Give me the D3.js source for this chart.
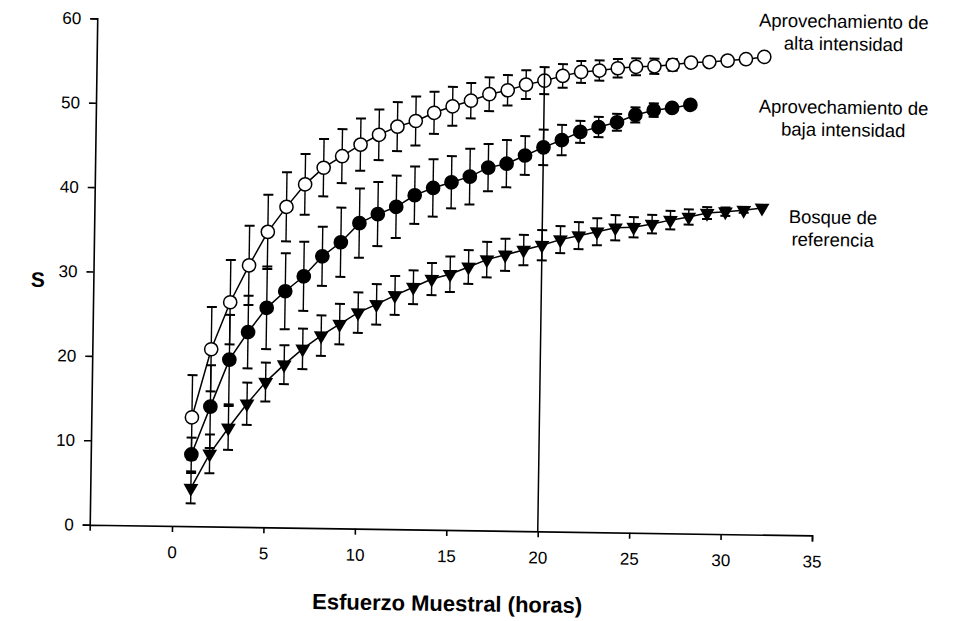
<!DOCTYPE html>
<html>
<head>
<meta charset="utf-8">
<script src="https://cdn.jsdelivr.net/npm/d3@7/dist/d3.min.js"></script>
<style>
  html, body { margin: 0; padding: 0; background: #fff; }
  svg { display: block; font-family: "Liberation Sans", Arial, Helvetica, sans-serif; }
</style>
</head>
<body>
<svg id="chart" width="955" height="621"></svg>
<script>
// Sampling effort (hours) for each curve
const horasAlta   = [1,2,3,4,5,6,7,8,9,10,11,12,13,14,15,16,17,18,19,20,21,22,23,24,25,26,27,28,29,30,31,32];
const horasBaja   = [1,2,3,4,5,6,7,8,9,10,11,12,13,14,15,16,17,18,19,20,21,22,23,24,25,26,27,28];
const horasBosque = [1,2,3,4,5,6,7,8,9,10,11,12,13,14,15,16,17,18,19,20,21,22,23,24,25,26,27,28,29,30,31,32];

// Accumulated species richness (S) and its deviation
const sAlta   = [12.9,21.0,26.6,31.0,35.0,38.0,40.7,42.7,44.1,45.5,46.7,47.7,48.4,49.4,50.2,50.9,51.7,52.2,52.9,53.4,54.0,54.5,54.7,55.0,55.2,55.3,55.5,55.8,55.9,56.1,56.3,56.6];
const dsAlta  = [5.0,5.0,5.0,4.7,4.4,4.1,3.6,3.4,3.2,3.1,3.0,2.9,2.9,2.5,2.3,2.1,2.0,1.8,1.7,1.6,1.4,1.3,1.2,1.1,1.0,0.9,0.7,0.5,0.3,0,0,0];
const sBaja   = [8.5,14.2,19.8,23.1,26.0,28.0,29.8,32.2,33.9,36.2,37.3,38.2,39.6,40.5,41.2,41.9,43.0,43.5,44.5,45.5,46.4,47.4,48.0,48.6,49.5,50.1,50.4,50.8];
const dsBaja  = [2.0,4.9,5.3,4.3,4.9,4.5,4.1,3.5,4.1,4.1,3.8,3.7,3.4,3.4,3.1,3.3,2.8,2.8,2.3,2.1,1.8,1.3,1.2,1.0,0.9,0.8,0.3,0];
const sBosque = [4.5,8.6,11.7,14.6,17.2,19.3,21.2,22.8,24.2,25.6,26.6,27.7,28.7,29.7,30.3,31.2,32.1,32.7,33.3,33.9,34.6,35.1,35.6,36.1,36.2,36.6,37.1,37.5,38.0,38.2,38.4,38.7];
const dsBosque= [1.8,2.3,2.6,2.5,2.3,2.3,2.4,2.4,2.4,2.4,2.4,2.3,2.0,1.9,2.1,2.0,2.1,1.9,1.8,1.8,1.6,1.6,1.6,1.5,1.2,1.1,1.1,0.9,0.7,0.5,0.3,0];

// Series labels (two lines each)
const etiquetas = [
  ["Aprovechamiento de", "alta intensidad"],
  ["Aprovechamiento de", "baja intensidad"],
  ["Bosque de", "referencia"]
];

// Axis ticks and reference effort
const xTicks = [0,5,10,15,20,25,30,35];
const yTicks = [0,10,20,30,40,50,60];
const esfuerzoRef = 20;
const esfuerzoRefTope = 55;

const svg = d3.select("#chart");
// whole figure sits at a slight clockwise tilt
const g = svg.append("g").attr("transform", "rotate(0.85,450,280)");

const x = d3.scaleLinear().domain([-4.5, 35]).range([93.4, 815.8]);
const y = d3.scaleLinear().domain([0, 60]).range([530, 23.6]);

// Axes
const xAxis = g.append("g").attr("transform", `translate(0,${y(0)})`)
  .call(d3.axisBottom(x).tickValues(xTicks).tickSizeOuter(0).tickSize(6).tickPadding(14));
const yAxis = g.append("g").attr("transform", `translate(${x(-4.5)},0)`)
  .call(d3.axisLeft(y).tickValues(yTicks).tickSizeOuter(0).tickSize(7).tickPadding(9));
[xAxis, yAxis].forEach(a => {
  a.selectAll("path, line").attr("stroke", "#000").attr("stroke-width", 1.6);
  a.selectAll("text").attr("fill", "#000").style("font-size", "17px");
});

// Axis titles
g.append("text").attr("x", 452).attr("y", 611).attr("text-anchor", "middle")
  .style("font-size", "22px").style("font-weight", "bold").text("Esfuerzo Muestral (horas)");
g.append("text").attr("x", 38).attr("y", 293).attr("text-anchor", "middle")
  .style("font-size", "21px").style("font-weight", "bold").text("S");

const series = [
  { h: horasAlta,   s: sAlta,   ds: dsAlta,   marker: "open" },
  { h: horasBaja,   s: sBaja,   ds: dsBaja,   marker: "filled" },
  { h: horasBosque, s: sBosque, ds: dsBosque, marker: "triangle" }
];

const line = d3.line().x(d => x(d.h)).y(d => y(d.s));
const capW = 5;

series.forEach(se => {
  const pts = se.h.map((h, i) => ({ h, s: se.s[i], ds: se.ds[i] }));
  const sg = g.append("g");
  // error bars
  const eb = sg.append("g").attr("stroke", "#000").attr("stroke-width", 1.4);
  pts.filter(d => d.ds > 0).forEach(d => {
    eb.append("line").attr("x1", x(d.h)).attr("x2", x(d.h)).attr("y1", y(d.s - d.ds)).attr("y2", y(d.s + d.ds));
    eb.append("line").attr("x1", x(d.h) - capW).attr("x2", x(d.h) + capW).attr("y1", y(d.s + d.ds)).attr("y2", y(d.s + d.ds)).attr("stroke-width", 2);
    eb.append("line").attr("x1", x(d.h) - capW).attr("x2", x(d.h) + capW).attr("y1", y(d.s - d.ds)).attr("y2", y(d.s - d.ds)).attr("stroke-width", 2);
  });
  // connecting line
  sg.append("path").datum(pts).attr("d", line).attr("fill", "none").attr("stroke", "#000").attr("stroke-width", 1.5);
  // markers
  if (se.marker === "triangle") {
    sg.selectAll("path.m").data(pts).enter().append("path").attr("class", "m")
      .attr("d", d3.symbol().type(d3.symbolTriangle).size(95))
      .attr("transform", d => `translate(${x(d.h)},${y(d.s)}) rotate(180)`)
      .attr("fill", "#000");
  } else {
    sg.selectAll("circle").data(pts).enter().append("circle")
      .attr("cx", d => x(d.h)).attr("cy", d => y(d.s)).attr("r", 6.6)
      .attr("fill", se.marker === "open" ? "#fff" : "#000")
      .attr("stroke", "#000").attr("stroke-width", 1.5);
  }
});

// reference effort line
g.append("line").attr("x1", x(esfuerzoRef)).attr("x2", x(esfuerzoRef))
  .attr("y1", y(0)).attr("y2", y(esfuerzoRefTope)).attr("stroke", "#000").attr("stroke-width", 1.5);

// Series labels, placed right of each curve's end, one text per line
const labelPos = [[840, 22], [841, 108], [832, 218]];
etiquetas.forEach((lines, i) => {
  lines.forEach((l, j) => {
    g.append("text").attr("x", labelPos[i][0]).attr("y", labelPos[i][1] + j * 22.5)
      .attr("text-anchor", "middle").style("font-size", "18.5px").attr("fill", "#000").text(l);
  });
});
</script>
</body>
</html>
